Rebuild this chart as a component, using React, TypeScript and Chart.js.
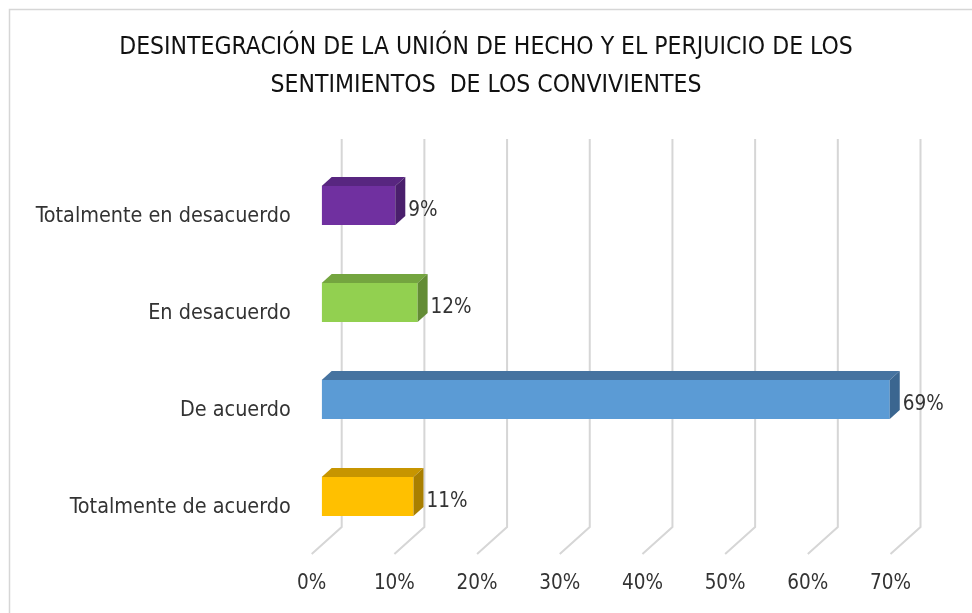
import React, { useEffect, useRef } from "react";
import { Chart, registerables } from "chart.js";

Chart.register(...registerables);

const titleLines = [
  "DESINTEGRACIÓN DE LA UNIÓN DE HECHO Y EL PERJUICIO DE LOS",
  "SENTIMIENTOS  DE LOS CONVIVIENTES",
];
const categories = [
  "Totalmente en desacuerdo",
  "En desacuerdo",
  "De acuerdo",
  "Totalmente de acuerdo",
];
const values = [0.089, 0.116, 0.687, 0.111];
const frontColors = ["#7030A0", "#92D050", "#5B9BD5", "#FFC000"];
const topColors = ["#582680", "#74A53F", "#4673A0", "#C79500"];
const sideColors = ["#4A1F6C", "#638C35", "#3B6690", "#A97F00"];
const xTicks = [0, 0.1, 0.2, 0.3, 0.4, 0.5, 0.6, 0.7];

const FONT = '"Liberation Sans Narrow", "Arial Narrow", "DejaVu Sans Condensed", sans-serif';
const DX = 10;
const DY = -9;

const pct = (v: number) => Math.round(v * 100) + "%";

const threeD = {
  id: "threeD",
  beforeDraw(chart: any) {
    const ctx = chart.ctx;
    ctx.save();
    ctx.strokeStyle = "#d6d6d6";
    ctx.lineWidth = 1.5;
    ctx.beginPath();
    ctx.moveTo(9.5, chart.height);
    ctx.lineTo(9.5, 9.5);
    ctx.lineTo(chart.width, 9.5);
    ctx.stroke();
    ctx.restore();
  },
  beforeDatasetsDraw(chart: any) {
    const ctx = chart.ctx;
    const xs = chart.scales.x;
    const { top, bottom } = chart.chartArea;
    ctx.save();
    ctx.strokeStyle = "#d6d6d6";
    ctx.lineWidth = 2;
    xTicks.forEach((v) => {
      const xb = xs.getPixelForValue(v) + 2 * DX;
      const yt = top + 2 * DY;
      const yb = bottom + 2 * DY;
      ctx.beginPath();
      ctx.moveTo(xb, yt);
      ctx.lineTo(xb, yb);
      ctx.lineTo(xb - 3 * DX, yb - 3 * DY);
      ctx.stroke();
    });
    ctx.restore();
  },
  afterDatasetsDraw(chart: any) {
    const ctx = chart.ctx;
    const meta = chart.getDatasetMeta(0);
    ctx.save();
    meta.data.forEach((bar: any, i: number) => {
      const { x, y, base, height } = bar.getProps(["x", "y", "base", "height"], true);
      const yt = y - height / 2;
      const yb = y + height / 2;
      ctx.fillStyle = topColors[i];
      ctx.beginPath();
      ctx.moveTo(base, yt);
      ctx.lineTo(x, yt);
      ctx.lineTo(x + DX, yt + DY);
      ctx.lineTo(base + DX, yt + DY);
      ctx.closePath();
      ctx.fill();
      ctx.fillStyle = sideColors[i];
      ctx.beginPath();
      ctx.moveTo(x, yt);
      ctx.lineTo(x + DX, yt + DY);
      ctx.lineTo(x + DX, yb + DY);
      ctx.lineTo(x, yb);
      ctx.closePath();
      ctx.fill();
      ctx.fillStyle = "#333333";
      ctx.font = `20.5px ${FONT}`;
      ctx.textAlign = "left";
      ctx.textBaseline = "middle";
      ctx.fillText(pct(values[i]), x + DX + 3, y + 5);
    });
    ctx.restore();
  },
};

export default function App() {
  const ref = useRef<HTMLCanvasElement | null>(null);
  useEffect(() => {
    if (!ref.current) return;
    const chart = new Chart(ref.current, {
      type: "bar",
      data: {
        labels: categories,
        datasets: [
          {
            data: values,
            backgroundColor: frontColors,
            barPercentage: 0.8,
            categoryPercentage: 0.5,
          },
        ],
      },
      options: {
        indexAxis: "y",
        animation: false,
        responsive: false,
        devicePixelRatio: 1,
        layout: { padding: { left: 0, right: 0, top: 0, bottom: 0 } },
        plugins: {
          legend: { display: false },
          tooltip: { enabled: false },
          title: {
            display: true,
            text: titleLines,
            color: "#111111",
            font: { family: FONT, size: 24.5, weight: "normal", lineHeight: 38 / 24.5 },
            padding: { top: 29, bottom: 52 },
          },
        },
        scales: {
          x: {
            min: 0,
            max: 0.7,
            grid: { display: false, drawTicks: false },
            border: { display: false },
            afterBuildTicks: (scale: any) => {
              scale.ticks = xTicks.map((v) => ({ value: v }));
            },
            afterFit: (scale: any) => {
              scale.height = 68;
            },
            ticks: {
              callback: (v: any) => pct(Number(v)),
              labelOffset: -10,
              padding: 26,
              color: "#333333",
              font: { family: FONT, size: 20.5 },
              maxRotation: 0,
            },
          },
          y: {
            grid: { display: false, drawTicks: false },
            border: { display: false },
            afterFit: (scale: any) => {
              scale.width = 321.7;
            },
            ticks: {
              padding: 31,
              labelOffset: 10.5,
              color: "#333333",
              font: { family: FONT, size: 21.4 },
            },
          },
          yR: {
            type: "category",
            position: "right",
            display: true,
            grid: { display: false, drawTicks: false },
            border: { display: false },
            ticks: { display: false },
            afterFit: (scale: any) => {
              scale.width = 71.5;
            },
          },
        },
      },
      plugins: [threeD],
    });
    return () => chart.destroy();
  }, []);
  return (
    <canvas
      ref={ref}
      width={972}
      height={613}
      style={{ position: "fixed", left: 0, top: 0, width: 972, height: 613, background: "#ffffff" }}
    />
  );
}
